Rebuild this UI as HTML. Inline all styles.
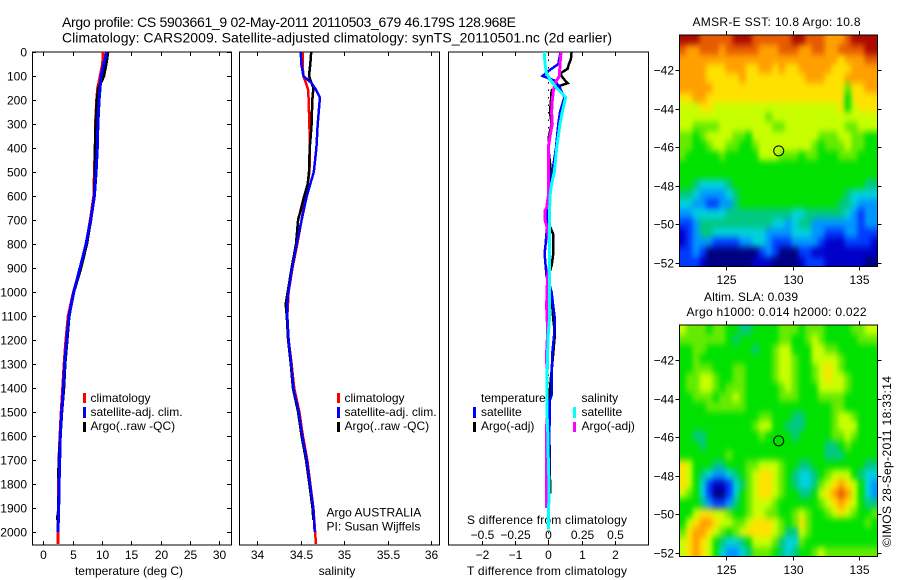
<!DOCTYPE html>
<html lang="en">
<head>
<meta charset="utf-8">
<title>Argo profile chart</title>
<style>
html,body{margin:0;padding:0;background:#fff;}
svg{display:block;font-family:"Liberation Sans",sans-serif;font-size:12px;fill:#000;}
</style>
</head>
<body>
<svg id="chart" xmlns="http://www.w3.org/2000/svg" width="900" height="580" viewBox="0 0 900 580">
<rect x="0" y="0" width="900" height="580" fill="#fff"/>
<defs>
<clipPath id="clipTemp"><rect x="32" y="52" width="199.5" height="493"/></clipPath>
<clipPath id="clipSal"><rect x="239.5" y="52" width="200" height="493"/></clipPath>
<clipPath id="clipDiff"><rect x="448.5" y="52" width="200" height="493"/></clipPath>
<clipPath id="clipMap35"><rect x="679.5" y="35" width="198" height="231.5"/></clipPath>
<clipPath id="clipMap325"><rect x="679.5" y="325" width="198" height="231.5"/></clipPath>
<filter id="mapSoften" x="-10%" y="-10%" width="120%" height="120%" color-interpolation-filters="sRGB"><feGaussianBlur stdDeviation="2.4 3.4"/></filter>
</defs>
<text x="62" y="27" font-size="14" textLength="454">Argo profile: CS 5903661_9 02-May-2011 20110503_679 46.179S 128.968E</text>
<text x="62" y="42.5" font-size="14" textLength="550">Climatology: CARS2009. Satellite-adjusted climatology: synTS_20110501.nc (2d earlier)</text>

<text x="129" y="575" text-anchor="middle">temperature (deg C)</text>
<text x="337" y="575" text-anchor="middle">salinity</text>
<text x="467" y="524" textLength="160">S difference from climatology</text>
<text x="467" y="575" textLength="160">T difference from climatology</text>

<g>
<rect x="83" y="393" width="3" height="10" fill="#f00"/>
<text x="90.5" y="402">climatology</text>
<rect x="83" y="407" width="3" height="11" fill="#00f"/>
<text x="90.5" y="416">satellite-adj. clim.</text>
<rect x="83" y="422" width="3" height="10" fill="#000"/>
<text x="90.5" y="430">Argo(..raw -QC)</text>
</g>
<g>
<rect x="337" y="393" width="3" height="10" fill="#f00"/>
<text x="344.5" y="402">climatology</text>
<rect x="337" y="407" width="3" height="11" fill="#00f"/>
<text x="344.5" y="416">satellite-adj. clim.</text>
<rect x="337" y="422" width="3" height="10" fill="#000"/>
<text x="344.5" y="430">Argo(..raw -QC)</text>
<text x="326.5" y="516.5">Argo AUSTRALIA</text>
<text x="326.5" y="530.5">PI: Susan Wijffels</text>
</g>
<g>
<text x="481" y="402">temperature</text>
<rect x="473" y="407" width="3" height="11" fill="#00f"/>
<text x="481" y="416">satellite</text>
<rect x="473" y="422" width="3" height="10" fill="#000"/>
<text x="481" y="430">Argo(-adj)</text>
<text x="581.5" y="402">salinity</text>
<rect x="573" y="407" width="3" height="11" fill="#0ff"/>
<text x="581.5" y="416">satellite</text>
<rect x="573" y="422" width="3" height="10" fill="#f0f"/>
<text x="581.5" y="430">Argo(-adj)</text>
</g>

<text x="692.5" y="26" textLength="168">AMSR-E SST: 10.8 Argo: 10.8</text>
<text x="704" y="301" textLength="94">Altim. SLA: 0.039</text>
<text x="686.5" y="316" textLength="180">Argo h1000: 0.014 h2000: 0.022</text>
<text transform="translate(891 547) rotate(-90)" textLength="171">©IMOS 28-Sep-2011 18:33:14</text>
</svg>
<script>
// ---------- depth ticks ----------
const depthTicks = [0,100,200,300,400,500,600,700,800,900,1000,1100,1200,1300,1400,1500,1600,1700,1800,1900,2000];
const tempTicks = [0,5,10,15,20,25,30];
const salTicks = [34,34.5,35,35.5,36];
const salTickLabels = ['34','34.5','35','35.5','36'];
const diffTTicks = [-2,-1,0,1,2];
const diffTLabels = ['\u22122','\u22121','0','1','2'];
const diffSTicks = [-0.5,-0.25,0,0.25,0.5];
const diffSLabels = ['\u22120.5','\u22120.25','0','0.25','0.5'];

// ---------- temperature panel ----------
const tempClimDepth = [0,50,100,150,200,300,400,500,600,700,800,900,1000,1100,1200,1300,1400,1500,1600,1700,1800,1900,2000,2050];
const tempClim = [10.2,10.1,9.7,9.26,9.1,8.9,8.85,8.7,8.6,8,7.3,6.3,5.15,4.25,3.85,3.55,3.3,3.05,2.85,2.65,2.6,2.55,2.5,2.5];
const tempArgoDepth = [0,50,100,150,200,300,400,500,600,700,800,900,1000,1100,1200,1300,1400,1500,1600,1700,1750,1800,1900,1925,1935,1950];
const tempArgo = [11,10.7,10.3,9.4,9.15,8.95,8.85,8.8,8.7,8.1,7.4,6.4,5.2,4.4,4.05,3.7,3.5,3.15,2.9,2.7,2.6,2.65,2.6,2.6,2.42,2.42];
const tempSatDepth = [0,100,200,300,400,500,600,700,800,900,1000,1100,1200,1300,1400,1500,1600,1700,1800,1900,2000];
const tempSat = [10.8,9.83,9.5,9.3,9.2,9,8.7,8.07,7.27,6.25,5.2,4.37,3.98,3.64,3.4,3.13,2.9,2.79,2.7,2.62,2.5];

// ---------- salinity panel ----------
const salClimDepth = [0,50,100,130,160,200,300,400,500,550,600,700,800,900,1000,1100,1200,1300,1400,1500,1600,1700,1800,1900,2000,2050];
const salClim = [34.52,34.52,34.53,34.56,34.587,34.59,34.6,34.605,34.6,34.58,34.55,34.51,34.46,34.405,34.36,34.345,34.36,34.395,34.425,34.485,34.525,34.575,34.61,34.645,34.665,34.675];
const salArgoDepth = [0,50,100,150,200,300,350,400,500,550,600,650,680,700,800,900,1000,1050,1100,1200,1300,1400,1500,1600,1700,1800,1900,1950];
const salArgo = [34.62,34.61,34.595,34.645,34.633,34.625,34.615,34.603,34.595,34.58,34.54,34.505,34.483,34.47,34.445,34.395,34.35,34.327,34.34,34.355,34.385,34.41,34.47,34.51,34.56,34.6,34.635,34.645];
const salSatDepth = [0,50,100,130,160,190,250,300,400,500,550,600,650,700,800,900,1000,1050,1100,1200,1300,1400,1500,1600,1700,1800,1900,2000];
const salSat = [34.5,34.506,34.53,34.626,34.68,34.72,34.706,34.695,34.68,34.65,34.61,34.57,34.54,34.51,34.453,34.4,34.357,34.345,34.345,34.36,34.39,34.415,34.476,34.518,34.568,34.606,34.644,34.66];

// ---------- difference panel ----------
const diffTSatDepth = [0,50,80,100,120,150,190,250,300,400,500,600,700,750,800,840,890,935,1000,1060,1116,1171,1254,1366,1430,1450,1600,1780];
const diffTSat = [.37,.30,0,-.17,.2,.35,.48,.35,.3,.23,.12,.05,-.05,-.05,-.08,-.11,-.08,-.05,.1,.15,.2,.18,.12,.1,.1,.05,.03,.03];
const diffTArgoDepth = [0,30,50,70,90,110,130,145,160,200,250,300,350,400,500,550,600,650,700,730,760,840,890,935,1000,1060,1116,1171,1254,1400,1500,1700,1840];
const diffTArgo = [.7,.68,.62,.58,.35,.45,.58,.25,.1,.08,.05,.1,.02,0,.08,.06,0,-.02,-.07,.06,.15,.15,.1,0,.08,.12,.15,.2,.15,.05,.03,.04,.06];
const diffSArgoDepth = [0,50,100,130,160,200,250,300,350,400,500,600,650,660,700,730,800,890,935,1000,1060,1116,1171,1254,1366,1900];
const diffSArgo = [.095,.088,.083,.05,.038,.03,.025,.03,.013,0,0,0,-.013,-.025,-.025,-.01,.008,.008,-.005,-.01,-.013,-.008,-.005,-.013,-.01,-.015];
const diffSSatDepth = [0,50,90,120,150,170,190,250,300,400,500,550,600,700,800,900,1000,1116,1171,1254,1366,1500,1600,1700,1800,1900,1990];
const diffSSat = [-.03,-.025,-.013,.02,.063,.1,.13,.105,.088,.063,.045,.025,.013,.008,.008,.008,.008,.008,0,-.005,-.01,-.01,-.003,0,.005,.003,0];

// ---------- map tick labels ----------
const lonTicks = [125,130,135];
const latTicks = [-42,-44,-46,-48,-50,-52];
const argoLon = 128.968;
const argoLat = -46.179;

// ---------- colour scale levels ----------
const levelColours = ['#000082','#0000c8','#003cff','#0096ff','#00d2dc','#00c882','#00e100','#64eb00','#c8ff00','#ffe100','#ffa000','#e65a00','#aa0a00'];

// ---------- SST map levels (north to south) ----------
const sstLevels = [
[12,12,12,11,11,11,11,11,12,12,12,11,11,11,11,11,11,12,12,11,11,11,10,10,10,11,12,12,12,12],
[11,10,10,11,11,11,10,11,11,11,11,11,10,10,10,11,11,11,10,10,11,11,10,10,11,11,11,11,12,12],
[10,10,10,10,10,10,10,10,10,10,10,10,10,10,10,10,10,10,10,10,10,10,10,10,9,10,10,10,11,11],
[10,10,10,10,9,9,9,10,10,10,9,9,10,10,9,10,9,9,10,10,10,10,10,9,9,9,10,10,10,10],
[10,10,10,10,9,9,9,9,9,10,9,9,9,9,9,9,9,9,9,10,10,10,9,9,9,10,10,10,10,10],
[10,10,10,10,10,9,9,9,9,9,9,9,9,9,9,9,9,9,9,9,9,9,9,9,9,7,9,9,10,10],
[9,9,10,10,9,9,9,9,9,9,9,9,9,9,9,9,9,9,9,9,9,9,9,9,9,6,9,9,9,9],
[8,8,8,9,9,8,8,8,8,8,8,8,8,8,8,8,8,8,8,8,8,8,8,8,9,6,8,9,9,9],
[8,8,8,8,8,8,8,8,8,8,8,8,8,7,8,8,8,8,8,8,8,8,8,8,8,8,8,8,8,8],
[8,8,7,7,7,7,8,8,8,8,8,8,8,8,7,7,8,8,8,8,8,8,8,8,8,7,7,8,8,8],
[7,7,6,7,8,8,8,8,7,7,6,8,8,8,8,8,8,8,8,8,8,7,7,7,8,8,7,7,6,6],
[7,7,6,6,7,8,8,7,7,6,6,7,8,8,8,8,8,8,8,8,7,6,7,7,7,8,7,7,6,6],
[7,6,6,6,6,6,7,6,6,6,6,6,8,8,8,7,7,7,6,7,7,6,6,6,7,7,7,6,6,6],
[6,6,6,6,6,6,6,6,6,6,6,6,6,6,6,6,6,6,6,6,6,6,6,6,6,6,6,6,6,6],
[6,6,6,6,6,6,6,6,6,6,6,6,6,6,6,6,6,6,6,6,6,6,6,6,6,6,6,6,6,6],
[6,6,5,4,4,4,4,5,6,6,6,6,6,6,6,6,6,6,6,6,6,6,6,6,6,6,6,6,5,5],
[5,5,4,3,3,3,3,4,5,6,6,6,6,6,6,6,6,6,6,6,6,6,6,6,6,5,4,4,4,4],
[4,4,3,3,2,2,3,3,5,6,6,6,6,6,6,6,6,6,6,6,6,6,6,6,5,5,4,3,3,3],
[3,3,4,4,4,4,4,5,5,5,5,5,5,5,5,5,5,4,4,5,5,5,5,5,5,4,3,2,3,3],
[2,2,3,5,5,5,5,5,5,5,5,5,5,5,4,4,3,4,5,5,3,3,3,3,3,3,3,2,3,3],
[1,2,3,5,5,4,4,4,4,4,4,4,4,3,3,3,3,4,4,4,3,3,2,2,2,3,3,2,2,2],
[1,2,3,3,3,2,2,2,2,3,3,4,4,3,2,2,2,3,3,3,3,2,1,1,1,2,2,2,2,1],
[2,2,3,2,0,0,0,0,0,0,0,0,2,3,2,0,0,0,2,2,1,1,1,1,1,1,1,1,1,1],
[2,2,2,1,0,0,0,0,0,0,0,1,1,1,0,0,0,0,1,2,2,2,1,1,1,1,1,1,0,0]
];

// ---------- SLA map levels (north to south) ----------
const slaLevels = [
[8,7,7,7,6,7,7,6,6,5,5,6,6,6,6,7,7,7,6,7,7,7,6,6,6,6,7,7,8,8],
[7,7,7,7,7,7,7,6,5,6,6,6,6,6,6,7,7,6,6,7,8,7,6,6,6,6,6,7,7,7],
[6,6,7,7,6,6,6,6,6,6,6,5,6,6,7,8,8,6,6,6,8,8,7,7,6,6,6,6,6,6],
[6,6,7,6,6,6,6,6,6,6,6,6,6,6,7,8,8,7,6,6,8,8,8,8,7,6,6,6,6,6],
[6,6,7,7,7,6,6,6,7,7,6,6,6,6,7,8,8,7,6,6,7,8,9,8,7,6,6,6,6,6],
[6,7,7,8,8,7,6,6,7,7,6,6,6,6,7,8,8,7,6,6,7,8,9,8,8,7,6,6,6,6],
[6,7,7,8,8,7,6,7,7,7,6,6,6,6,6,7,8,7,6,6,6,8,8,8,8,7,6,6,6,6],
[6,6,7,7,7,6,7,7,8,7,6,6,6,6,6,7,7,7,6,6,6,7,7,7,7,6,6,6,6,6],
[6,6,6,6,7,7,7,7,7,7,6,6,6,6,6,6,6,6,6,6,6,6,6,7,7,6,6,6,6,6],
[6,6,6,6,6,6,6,6,6,6,6,6,7,7,6,6,6,5,5,6,6,6,6,7,8,8,7,6,6,6],
[6,6,6,6,6,6,6,6,6,6,6,7,8,8,6,6,5,5,5,6,6,6,6,7,8,8,8,6,6,6],
[6,6,5,5,6,6,6,6,6,6,6,6,7,6,6,6,6,5,6,6,6,6,6,7,7,8,7,6,6,6],
[6,6,6,5,6,6,6,6,6,6,6,6,6,6,6,6,6,6,6,6,6,6,5,5,6,7,6,6,6,6],
[6,6,6,6,6,6,6,7,6,6,6,6,6,6,6,6,6,6,6,6,6,6,5,5,5,6,6,6,6,6],
[9,8,6,6,6,5,5,6,6,6,7,7,8,8,8,7,6,6,5,5,6,6,6,6,6,6,6,6,5,5],
[9,8,6,5,4,3,3,4,5,6,7,8,9,9,8,7,6,5,4,4,5,6,7,8,8,8,6,5,4,4],
[9,8,6,4,2,1,1,2,4,5,7,8,9,9,8,7,6,5,4,4,5,7,8,9,10,9,8,6,4,3],
[8,7,6,4,2,0,0,2,4,6,7,8,9,9,8,7,6,6,5,5,6,8,9,10,11,10,8,6,4,3],
[6,6,6,5,3,2,2,3,5,6,7,8,8,8,7,6,6,6,6,6,6,7,8,9,10,9,8,6,5,5],
[6,6,8,9,9,8,8,7,6,6,7,8,8,7,7,6,6,7,8,7,6,6,7,8,9,8,7,6,6,7],
[6,8,9,10,10,9,8,8,7,7,8,9,9,9,8,7,6,7,9,7,6,6,6,6,6,6,6,6,7,6],
[7,9,10,10,9,8,7,6,7,8,9,9,9,9,8,7,5,5,8,7,6,6,6,6,6,6,6,6,6,6],
[8,9,10,9,8,6,5,4,4,5,6,8,8,8,7,5,4,4,7,6,6,6,6,6,6,6,6,6,6,6],
[8,9,10,9,8,6,4,3,3,4,5,7,7,7,6,5,4,5,6,6,7,8,7,7,7,7,7,7,7,7]
];

const NS = 'http://www.w3.org/2000/svg';
const chart = document.getElementById('chart');

function svgEl(tag, parent, name, attrs) {
  const el = document.createElementNS(NS, tag);
  
  
  for (const k in attrs) el.setAttribute(k, attrs[k]);
  parent.appendChild(el);
  return el;
}
function line(parent, name, x1, y1, x2, y2) {
  return svgEl('line', parent, name, {x1, y1, x2, y2, stroke: '#000', 'stroke-width': 1, 'shape-rendering': 'crispEdges'});
}
function label(parent, name, x, y, txt, anchor) {
  const t = svgEl('text', parent, name, {x, y, 'text-anchor': anchor || 'middle'});
  t.textContent = txt;
  return t;
}

// axis functions
const depthY = d => 52 + 0.24 * d;
const tempX = t => 43.3 + 5.87 * t;
const salX = s => 257.3 + 86.9 * (s - 34);
const diffTX = t => 548.3 + 33.3 * t;
const diffSX = s => 548.3 + 133.2 * s;

const boxTop = 52, boxBottom = 545;

function frame(name, x0, x1) {
  const g = svgEl('g', chart, name, {});
  svgEl('rect', g, name + '-border', {x: x0 + 0.5, y: boxTop, width: x1 - x0, height: boxBottom - boxTop, fill: 'none', stroke: '#000', 'stroke-width': 1, 'shape-rendering': 'crispEdges'});
  return g;
}
function xTicks(g, vals, fx, labels, labelY) {
  vals.forEach((v, i) => {
    const x = Math.round(fx(v)) + 0.5;
    line(g, 'x-tick-top', x, boxTop, x, boxTop + 4);
    line(g, 'x-tick-bottom', x, boxBottom - 4, x, boxBottom);
    label(g, 'x-tick-label', x, labelY, labels[i]);
  });
}
function series(g, clip, name, colour, width, depths, values, fx) {
  const pts = depths.map((d, i) => fx(values[i]).toFixed(1) + ',' + depthY(d).toFixed(1)).join(' ');
  svgEl('polyline', g, name, {points: pts, fill: 'none', stroke: colour, 'stroke-width': width, 'clip-path': 'url(#' + clip + ')', 'shape-rendering': 'crispEdges'});
}

// temperature panel
const p1 = frame('temperature-panel', 32, 231);
depthTicks.forEach(d => {
  const y = Math.round(depthY(d)) + 0.5;
  line(p1, 'y-tick-left', 32, y, 36, y);
  line(p1, 'y-tick-right', 227, y, 231, y);
  label(p1, 'depth-tick-label', 27, y + 4, String(d), 'end');
});
xTicks(p1, tempTicks, tempX, tempTicks.map(String), 559);
series(p1, 'clipTemp', 'temperature-climatology-line', '#f00', 3, tempClimDepth, tempClim, tempX);
series(p1, 'clipTemp', 'temperature-argo-line', '#000', 3, tempArgoDepth, tempArgo, tempX);
series(p1, 'clipTemp', 'temperature-satellite-line', '#00f', 3, tempSatDepth, tempSat, tempX);

// salinity panel
const p2 = frame('salinity-panel', 239, 439);
xTicks(p2, salTicks, salX, salTickLabels, 559);
series(p2, 'clipSal', 'salinity-climatology-line', '#f00', 2.5, salClimDepth, salClim, salX);
series(p2, 'clipSal', 'salinity-argo-line', '#000', 2.5, salArgoDepth, salArgo, salX);
series(p2, 'clipSal', 'salinity-satellite-line', '#00f', 2.5, salSatDepth, salSat, salX);

// difference panel
const p3 = frame('difference-panel', 448, 648);
xTicks(p3, diffTTicks, diffTX, diffTLabels, 559);
diffSTicks.forEach((v, i) => {
  label(p3, 's-tick-label', Math.round(diffSX(v)) + 0.5, 539, diffSLabels[i]);
});
svgEl('line', p3, 'zero-difference-line', {x1: 548.5, y1: boxTop, x2: 548.5, y2: boxBottom, stroke: '#000', 'stroke-width': 1, 'stroke-dasharray': '1.5 6'});
series(p3, 'clipDiff', 'diff-t-argo-line', '#000', 2.5, diffTArgoDepth, diffTArgo, diffTX);
series(p3, 'clipDiff', 'diff-t-satellite-line', '#00f', 2.5, diffTSatDepth, diffTSat, diffTX);
series(p3, 'clipDiff', 'diff-s-argo-line', '#f0f', 3, diffSArgoDepth, diffSArgo, diffSX);
series(p3, 'clipDiff', 'diff-s-satellite-line', '#0ff', 3, diffSSatDepth, diffSSat, diffSX);

// maps
function drawMap(name, levels, top, lat42y, tickLabelY) {
  const left = 679.5, right = 877.5, bottom = top + 231.5;
  const lonX = lon => 725.7 + 13.36 * (lon - 125);
  const latY = lat => lat42y + 19.27 * (-42 - lat);
  const lonMin = (left - 725.7) / 13.36 + 125, lonMax = (right - 725.7) / 13.36 + 125;
  const latMax = -42 - (top - lat42y) / 19.27, latMin = -42 - (bottom - lat42y) / 19.27;
  const g = svgEl('g', chart, name, {});
  const clipped = svgEl('g', g, name + '-clip', {'clip-path': 'url(#clipMap' + top + ')'});
  const soft = svgEl('g', clipped, name + '-cells', {filter: 'url(#mapSoften)'});
  const nRow = levels.length, nCol = levels[0].length;
  const dLon = (lonMax - lonMin) / nCol, dLat = (latMax - latMin) / nRow;
  const bleed = 12;
  levels.forEach((row, r) => {
    row.forEach((v, c) => {
      let x0 = lonX(lonMin + c * dLon), x1 = lonX(lonMin + (c + 1) * dLon);
      let y0 = latY(latMax - r * dLat), y1 = latY(latMax - (r + 1) * dLat);
      if (c === 0) x0 -= bleed;
      if (c === nCol - 1) x1 += bleed;
      if (r === 0) y0 -= bleed;
      if (r === nRow - 1) y1 += bleed;
      svgEl('rect', soft, 'heatmap-cell', {x: x0.toFixed(2), y: y0.toFixed(2), width: (x1 - x0 + 0.5).toFixed(2), height: (y1 - y0 + 0.5).toFixed(2), fill: levelColours[v], 'shape-rendering': 'crispEdges'});
    });
  });
  svgEl('rect', g, name + '-border', {x: left, y: top, width: right - left, height: bottom - top, fill: 'none', stroke: '#000', 'stroke-width': 1, 'shape-rendering': 'crispEdges'});
  lonTicks.forEach(v => {
    const x = Math.round(lonX(v)) + 0.5;
    line(g, 'x-tick-top', x, top - 4, x, top);
    line(g, 'x-tick-bottom', x, bottom, x, bottom + 4);
    label(g, 'longitude-tick-label', x, tickLabelY, String(v));
  });
  latTicks.forEach(v => {
    const y = Math.round(latY(v)) + 0.5;
    line(g, 'y-tick-left', left - 4, y, left, y);
    line(g, 'y-tick-right', right, y, right + 4, y);
    label(g, 'latitude-tick-label', 674, y + 4, '\u2212' + Math.abs(v), 'end');
  });
  svgEl('circle', g, 'argo-float-marker', {cx: lonX(argoLon), cy: latY(argoLat), r: 5, fill: 'none', stroke: '#000', 'stroke-width': 1});
}
drawMap('sst-map', sstLevels, 35, 70.3, 284);
drawMap('sla-map', slaLevels, 325, 360.3, 574);
</script>
</body>
</html>
